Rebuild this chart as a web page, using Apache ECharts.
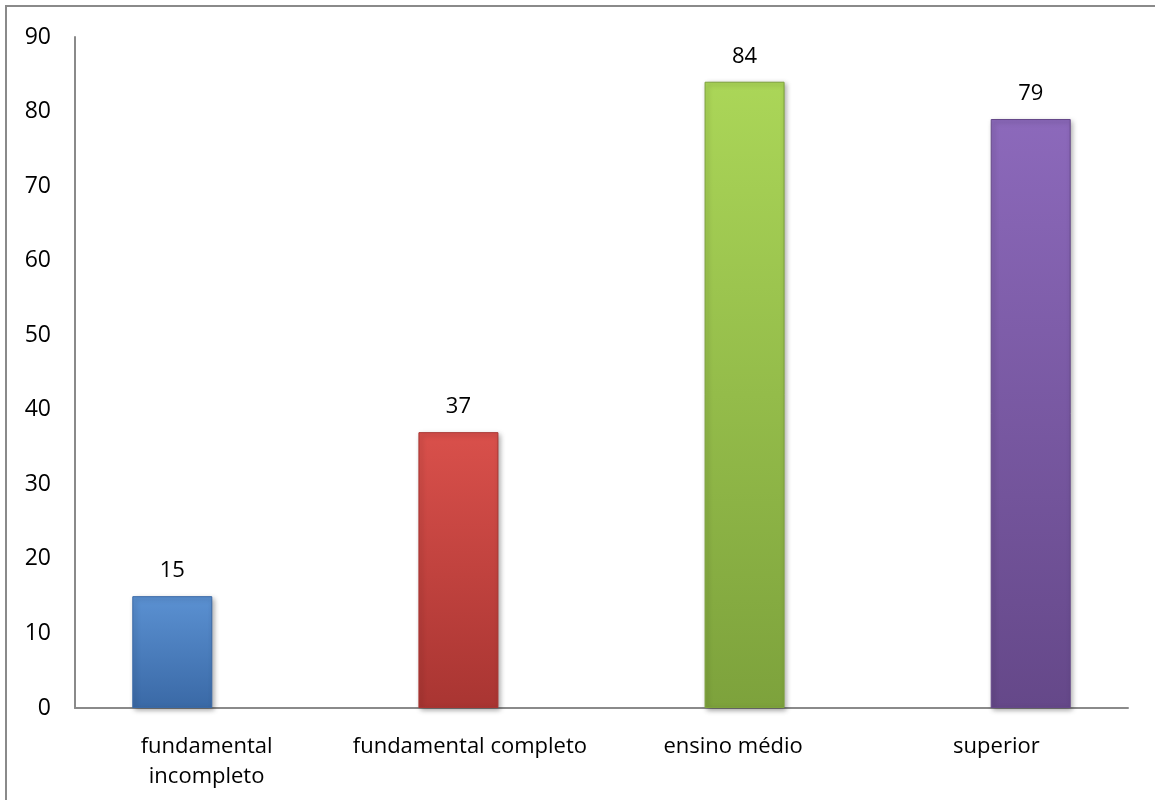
<!DOCTYPE html>
<html>
<head>
<meta charset="utf-8">
<script src="https://cdn.jsdelivr.net/npm/echarts@6/dist/echarts.min.js"></script>
<style>
  html, body { margin: 0; padding: 0; background: #fff; }
  #chart { width: 1155px; height: 800px; }
</style>
</head>
<body>
<div id="chart"></div>
<script>
const categories = ['fundamental\nincompleto', 'fundamental completo', 'ensino médio', 'superior'];
const values = [15, 37, 84, 79];
const yTicks = [0, 10, 20, 30, 40, 50, 60, 70, 80, 90];

// top / bottom colours of each bar
const barColors = [
  ['#5b91d2', '#3a69a6'],
  ['#d9504b', '#a93532'],
  ['#abd658', '#7da23c'],
  ['#8c69bb', '#654889']
];

const chart = echarts.init(document.getElementById('chart'));
const font = '"Open Sans", sans-serif';
const axisGray = '#8a8a8a';

const option = {
  animation: false,
  backgroundColor: '#fff',
  graphic: [{
    type: 'rect',
    shape: { x: 6, y: 6, width: 1170, height: 820 },
    style: { fill: 'none', stroke: axisGray, lineWidth: 2 }
  }],
  grid: { left: 75, right: 27, top: 37, bottom: 92 },
  xAxis: [
    {
      type: 'category',
      data: categories,
      axisLine: { onZero: false, lineStyle: { color: axisGray, width: 2 } },
      axisTick: { show: false },
      axisLabel: { interval: 0, color: '#000', fontSize: 22, fontFamily: font, margin: 24, lineHeight: 30 }
    },
    {
      // positions the bars; hidden
      type: 'value',
      min: -0.34,
      max: 3.34,
      show: false
    }
  ],
  yAxis: {
    type: 'value',
    min: yTicks[0],
    max: yTicks[yTicks.length - 1],
    interval: 10,
    splitLine: { show: false },
    axisLine: { show: true, onZero: false, lineStyle: { color: axisGray, width: 2 } },
    axisTick: { show: false },
    axisLabel: { color: '#000', fontSize: 23, fontFamily: font, margin: 24 }
  },
  series: [{
    type: 'bar',
    xAxisIndex: 1,
    barWidth: 80,
    data: values.map((v, i) => ({
      value: [i, v],
      itemStyle: {
        color: new echarts.graphic.LinearGradient(0, 0, 0, 1, [
          { offset: 0, color: barColors[i][0] },
          { offset: 1, color: barColors[i][1] }
        ]),
        borderColor: barColors[i][1],
        borderWidth: 1,
        shadowBlur: 5,
        shadowColor: 'rgba(0,0,0,0.35)',
        shadowOffsetX: 2,
        shadowOffsetY: 2
      }
    })),
    label: {
      show: true,
      position: 'top',
      distance: 14,
      color: '#000',
      fontSize: 22,
      fontFamily: font,
      formatter: p => p.value[1]
    }
  }]
};

chart.setOption(option);
</script>
</body>
</html>
